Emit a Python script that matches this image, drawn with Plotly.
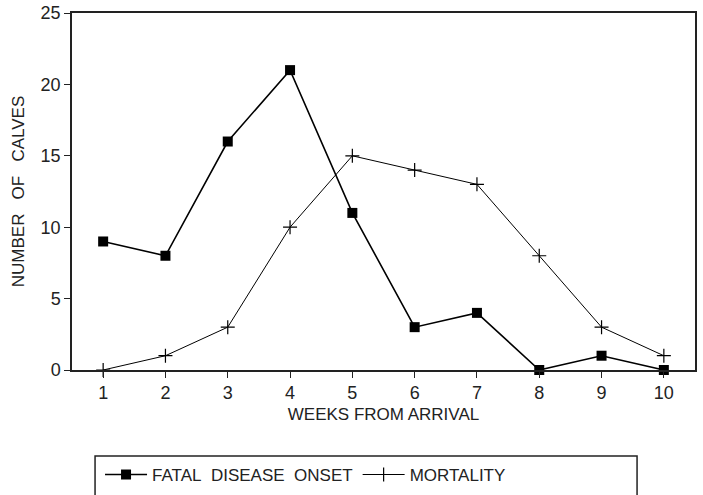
import plotly.graph_objects as go

weeks = [1, 2, 3, 4, 5, 6, 7, 8, 9, 10]
fatal_onset = [9, 8, 16, 21, 11, 3, 4, 0, 1, 0]
mortality = [0, 1, 3, 10, 15, 14, 13, 8, 3, 1]
y_ticks = [0, 5, 10, 15, 20, 25]

FONT = "Liberation Sans"
NB2 = "\u00a0\u00a0"
NB3 = "\u00a0\u00a0\u00a0"

fig = go.Figure()
fig.add_trace(go.Scatter(
    x=weeks, y=fatal_onset, mode="lines+markers",
    name="FATAL" + NB2 + "DISEASE" + NB2 + "ONSET",
    line=dict(color="black", width=1.6),
    marker=dict(symbol="square", size=10, color="black"),
    cliponaxis=False,
))
fig.add_trace(go.Scatter(
    x=weeks, y=mortality, mode="lines+markers", name="MORTALITY",
    line=dict(color="black", width=1),
    marker=dict(symbol="cross-thin", size=10, color="black",
                line=dict(color="black", width=1.2)),
    cliponaxis=False,
))

fig.update_layout(
    width=703, height=495,
    margin=dict(l=72, r=8, t=13, b=125, autoexpand=False),
    paper_bgcolor="white", plot_bgcolor="white",
    font=dict(family=FONT, size=17, color="#222"),
    showlegend=True,
    legend=dict(orientation="h", x=0.045, xanchor="left", y=-0.294, yanchor="middle",
                font=dict(size=17, family=FONT, color="#222"), itemwidth=42,
                bgcolor="rgba(0,0,0,0)"),
    shapes=[dict(type="rect", xref="paper", yref="paper",
                 x0=0.037, x1=0.907, y0=-0.45, y1=-0.241,
                 line=dict(color="#222", width=1.5))],
)
fig.update_xaxes(
    range=[0.5, 10.5], tickvals=weeks, ticktext=[str(w) for w in weeks],
    ticks="outside", ticklen=6, tickcolor="#222",
    showline=True, linecolor="#222", linewidth=1.5, mirror=True,
    showgrid=False, zeroline=False,
    tickfont=dict(size=18),
    title=dict(text="WEEKS FROM ARRIVAL", font=dict(size=17), standoff=6),
)
fig.update_yaxes(
    range=[0, 25], tickvals=y_ticks,
    ticks="outside", ticklen=6, tickcolor="#222",
    showline=True, linecolor="#222", linewidth=1.5, mirror=True,
    showgrid=False, zeroline=False,
    tickfont=dict(size=18),
    title=dict(text="NUMBER" + NB3 + "OF" + NB3 + "CALVES", font=dict(size=17), standoff=12),
)

fig.write_html("out.html")
